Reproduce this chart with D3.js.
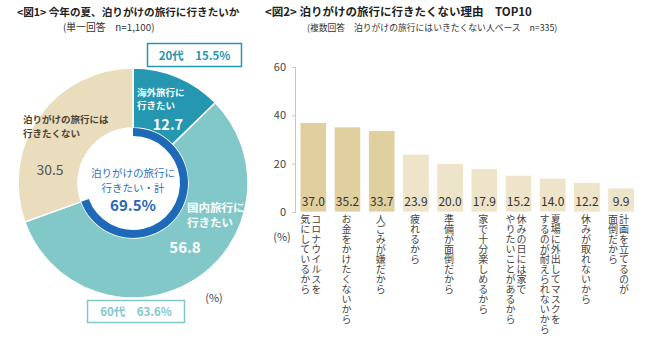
<!DOCTYPE html>
<html><head><meta charset="utf-8">
<script src="https://cdn.jsdelivr.net/npm/d3@7"></script>
<style>
body{margin:0;background:#fff;}
svg{display:block;font-family:"Noto Sans CJK JP","Noto Sans",sans-serif;}
</style></head><body>
<svg id="c" width="650" height="347"></svg>
<script>
// Figure 1 data
const donutLabels = ["海外旅行に行きたい", "国内旅行に行きたい", "泊りがけの旅行には行きたくない"];
const donutValues = [12.7, 56.8, 30.5];
const totalWant = 69.5;
// Figure 2 data
const reasons = [
  ["コロナウイルスを", "気にしているから"],
  ["お金をかけたくないから"],
  ["人ごみが嫌だから"],
  ["疲れるから"],
  ["準備が面倒だから"],
  ["家で十分楽しめるから"],
  ["休みの日には家で", "やりたいことがあるから"],
  ["夏場に外出してマスクを", "するのが耐えられないから"],
  ["休みが取れないから"],
  ["計画を立てるのが", "面倒だから"]
];
const reasonValues = [37.0, 35.2, 33.7, 23.9, 20.0, 17.9, 15.2, 14.0, 12.2, 9.9];
const yTicks = [0, 20, 40, 60];

const svg = d3.select("#c");

// ---------- Titles ----------
svg.append("text").attr("x", 17).attr("y", 16).attr("font-size", 10.6).attr("font-weight", "bold").attr("fill", "#222")
  .text("<図1> 今年の夏、泊りがけの旅行に行きたいか");
svg.append("text").attr("x", 63).attr("y", 31).attr("font-size", 9.8).attr("fill", "#333")
  .text("(単一回答　n=1,100)");
svg.append("text").attr("x", 265).attr("y", 16).attr("font-size", 11.5).attr("font-weight", "bold").attr("fill", "#222")
  .text("<図2> 泊りがけの旅行に行きたくない理由　TOP10");
svg.append("text").attr("x", 307).attr("y", 31).attr("font-size", 8.8).attr("fill", "#333")
  .text("(複数回答　泊りがけの旅行にはいきたくない人ベース　n=335)");

// ---------- Donut ----------
const cx = 133, cy = 183, R = 115, r0 = 55;
const donutColors = ["#2597b1", "#82c8c9", "#e9ddbe"];
const pie = d3.pie().sort(null).value(d => d);
const arc = d3.arc().innerRadius(r0).outerRadius(R);
const g1 = svg.append("g").attr("transform", `translate(${cx},${cy})`);
g1.selectAll("path.seg").data(pie(donutValues)).join("path")
  .attr("class", "seg").attr("d", arc)
  .attr("fill", (d, i) => donutColors[i]).attr("stroke", "#fff").attr("stroke-width", 1.5);
// ring for total
g1.append("path").attr("d", d3.arc().innerRadius(47).outerRadius(55).startAngle(0).endAngle(totalWant / 100 * 2 * Math.PI)())
  .attr("fill", "#1e69b8");

// Segment labels
function lines(g, x, y, arr, size, color, weight, lh) {
  arr.forEach((t, i) => g.append("text").attr("x", x).attr("y", y + i * lh).attr("font-size", size)
    .attr("font-weight", weight).attr("fill", color).text(t));
}
lines(svg, 137, 96, ["海外旅行に", "行きたい"], 9.5, "#fff", "bold", 13);
svg.append("text").attr("x", 168).attr("y", 130).attr("text-anchor", "middle").attr("font-size", 14.5)
  .attr("font-weight", "bold").attr("fill", "#fff").text(donutValues[0].toFixed(1));
lines(svg, 23, 123, ["泊りがけの旅行には", "行きたくない"], 9.5, "#4b4232", "bold", 13.5);
svg.append("text").attr("x", 50).attr("y", 175).attr("text-anchor", "middle").attr("font-size", 14)
  .attr("fill", "#555").text(donutValues[2].toFixed(1));
lines(svg, 187, 212, ["国内旅行に", "行きたい"], 11.5, "#fff", "bold", 15);
svg.append("text").attr("x", 185).attr("y", 253).attr("text-anchor", "middle").attr("font-size", 15)
  .attr("font-weight", "bold").attr("fill", "#fff").text(donutValues[1].toFixed(1));
// Center text
svg.append("text").attr("x", cx).attr("y", 177).attr("text-anchor", "middle").attr("font-size", 10.5).attr("fill", "#3470c0").text("泊りがけの旅行に");
svg.append("text").attr("x", cx).attr("y", 192).attr("text-anchor", "middle").attr("font-size", 10.5).attr("fill", "#3470c0").text("行きたい・計");
svg.append("text").attr("x", cx).attr("y", 211).attr("text-anchor", "middle").attr("font-size", 15).attr("font-weight", "bold").attr("fill", "#2a66b8").text(totalWant.toFixed(1) + "%");
svg.append("text").attr("x", 214).attr("y", 302).attr("text-anchor", "middle").attr("font-size", 11).attr("fill", "#444").text("(%)");

// Boxes
svg.append("rect").attr("x", 147.5).attr("y", 43.5).attr("width", 94).attr("height", 23).attr("fill", "#fff").attr("stroke", "#2597b1").attr("stroke-width", 1.5);
svg.append("text").attr("x", 194.5).attr("y", 59.5).attr("text-anchor", "middle").attr("font-size", 11.5).attr("font-weight", "bold").attr("fill", "#2597b1").text("20代　15.5%");
svg.append("rect").attr("x", 87.5).attr("y", 300.5).attr("width", 97).attr("height", 22).attr("fill", "#fff").attr("stroke", "#82c8c9").attr("stroke-width", 1.5);
svg.append("text").attr("x", 136).attr("y", 316).attr("text-anchor", "middle").attr("font-size", 11.5).attr("font-weight", "bold").attr("fill", "#82c8c9").text("60代　63.6%");

// ---------- Bar chart ----------
const x = d3.scaleBand().domain(d3.range(reasonValues.length)).range([296.2, 638.2]).paddingInner(0.225).paddingOuter(0.1125);
const y = d3.scaleLinear().domain([0, 60]).range([212, 67]);
const yAxis = svg.append("g").attr("transform", "translate(295,0)")
  .call(d3.axisLeft(y).tickValues(yTicks).tickSize(3).tickPadding(6));
yAxis.select(".domain").attr("stroke", "#c4c4c4");
yAxis.selectAll(".tick line").attr("stroke", "#c4c4c4");
yAxis.selectAll(".tick text").attr("font-size", 11).attr("fill", "#444").attr("font-family", "'Noto Sans CJK JP',sans-serif");

svg.selectAll("rect.bar").data(reasonValues).join("rect").attr("class", "bar")
  .attr("x", (d, i) => x(i)).attr("width", x.bandwidth())
  .attr("y", d => y(d)).attr("height", d => y(0) - y(d))
  .attr("fill", (d, i) => i < 3 ? "#e0cf9f" : "#eee4c9").attr("stroke", "#fff").attr("stroke-width", 0.8);
svg.selectAll("text.val").data(reasonValues).join("text").attr("class", "val")
  .attr("x", (d, i) => x(i) + x.bandwidth() / 2).attr("y", 206)
  .attr("text-anchor", "middle").attr("font-size", 12).attr("fill", "#333")
  .text(d => d.toFixed(1));

// category labels, vertical
reasons.forEach((ls, i) => {
  const c = x(i) + x.bandwidth() / 2;
  const n = ls.length;
  ls.forEach((t, j) => {
    const xx = c + (n === 1 ? -1 : (j === 0 ? 3 : -8));
    svg.append("text").attr("x", xx).attr("y", 214)
      .attr("font-size", 10).attr("fill", "#444")
      .style("writing-mode", "vertical-rl")
      .text(t);
  });
});
svg.append("text").attr("x", 282).attr("y", 241).attr("text-anchor", "middle").attr("font-size", 11).attr("fill", "#444").text("(%)");
</script>
</body></html>
